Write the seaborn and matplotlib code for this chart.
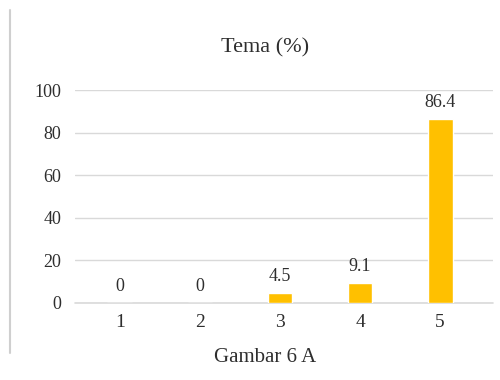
import matplotlib
matplotlib.use("Agg")
import matplotlib.pyplot as plt
from matplotlib.lines import Line2D
import seaborn as sns
import pandas as pd

categories = ["1", "2", "3", "4", "5"]
values = [0, 0, 4.5, 9.1, 86.4]
y_ticks = [0, 20, 40, 60, 80, 100]
title = "Tema (%)"
caption = "Gambar 6 A"

sns.set_theme(style="white")
plt.rcParams["font.family"] = ["Liberation Serif", "DejaVu Serif"]

text_color = "#2E2E2E"
df = pd.DataFrame({"kategori": categories, "nilai": values})

fig = plt.figure(figsize=(5.0, 3.8), dpi=100)
ax = fig.add_axes([0.15, 0.203, 0.836, 0.560])

sns.barplot(data=df, x="kategori", y="nilai", color="#FFC000", width=0.31,
            saturation=1, ax=ax, zorder=3)

ax.set_xlim(-0.56, 4.66)
ax.set_ylim(0, 100)
ax.set_yticks(y_ticks)
ax.set_yticklabels([str(t) for t in y_ticks], fontsize=13, color=text_color)
ax.tick_params(axis="x", labelsize=14, colors=text_color, length=0, pad=8)
ax.tick_params(axis="y", length=0, pad=10)
ax.yaxis.grid(True, color="#D9D9D9", linewidth=1.0, zorder=0)
ax.set_axisbelow(True)
for s in ax.spines.values():
    s.set_visible(False)
ax.axhline(0, color="#D9D9D9", linewidth=1.2, zorder=1, clip_on=False)
ax.set_xlabel("")
ax.set_ylabel("")

ax.bar_label(ax.containers[0], labels=[f"{v:g}" for v in values],
             padding=6, fontsize=13, color=text_color)

fig.text(0.53, 0.874, title, ha="center", va="center", fontsize=16, color=text_color)
fig.text(0.53, 0.06, caption, ha="center", va="center", fontsize=15, color=text_color)

# Chart frame edge on the left
fig.add_artist(Line2D([0.02, 0.02], [0.07, 0.975], transform=fig.transFigure,
                      color="#CFCFCF", linewidth=1.5))

fig.savefig("out.png", dpi=100, facecolor="white")
